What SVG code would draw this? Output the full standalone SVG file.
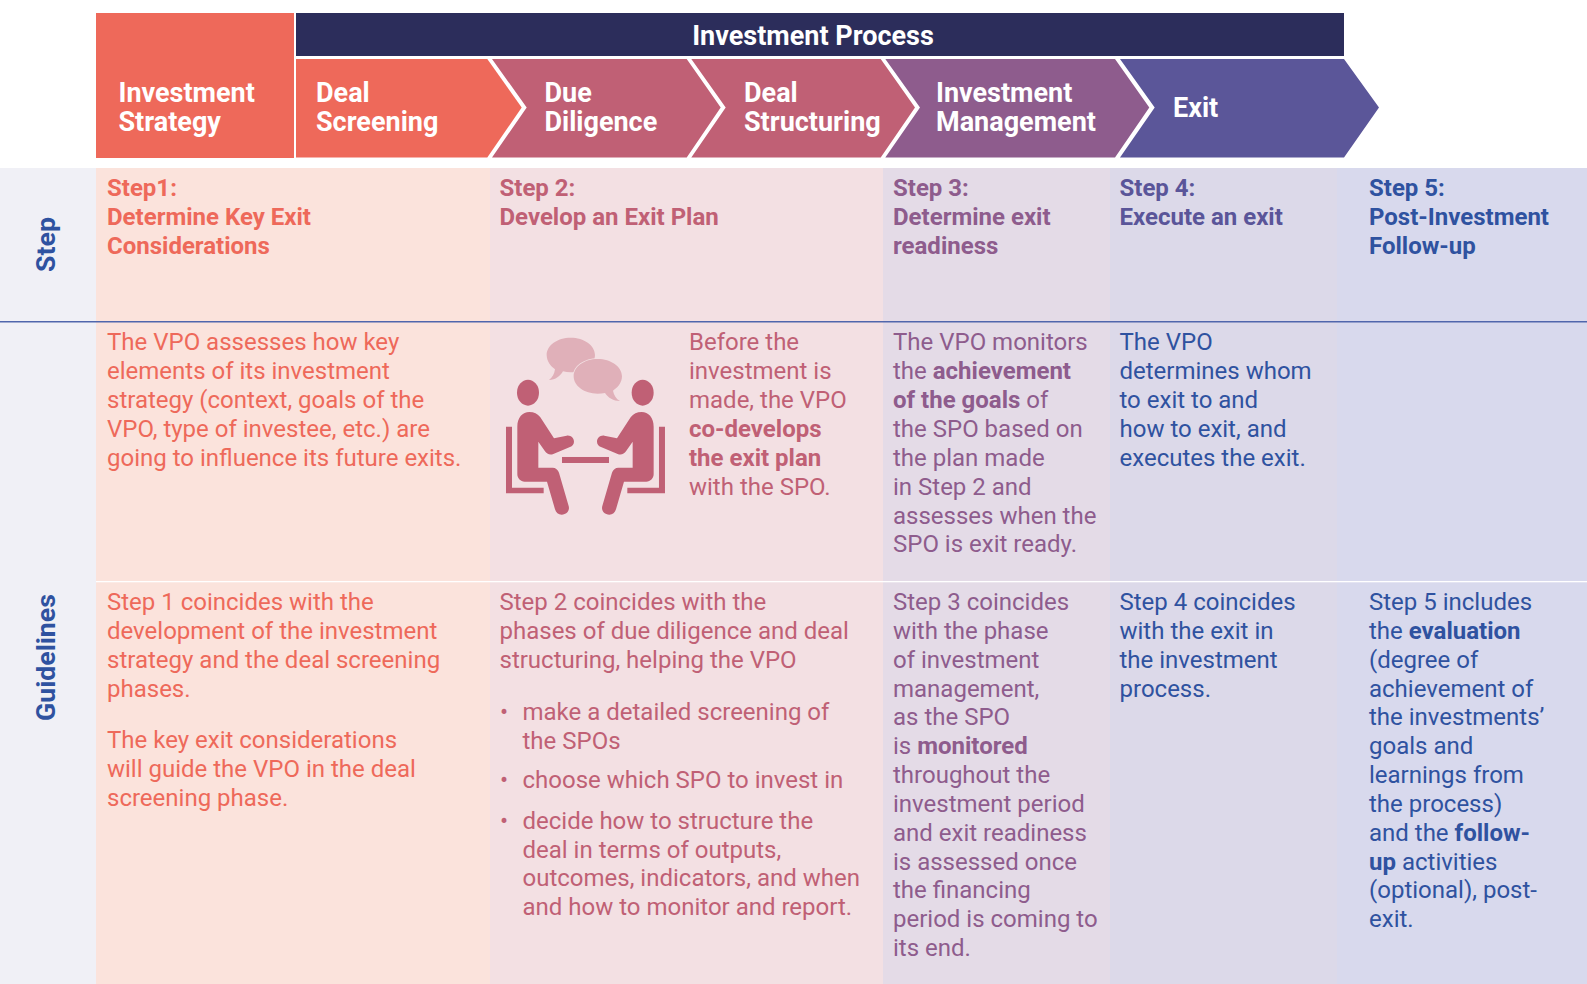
<svg xmlns="http://www.w3.org/2000/svg" width="1587" height="984" viewBox="0 0 1587 984">
<style>
text{font-family:Roboto,"Liberation Sans",sans-serif;font-size:24px}
.h{font-weight:700;font-size:27px;fill:#fff}
.s{font-weight:700;font-size:24px}
.b{font-weight:700}
.c1{fill:#ee695a}.c2{fill:#c06075}.c3{fill:#8e5c8d}.c4{fill:#5a5599}.c5{fill:#2f52a0}
.v{font-weight:700;font-size:26.7px;fill:#2f52a0;text-anchor:middle}
</style>
<rect width="1587" height="984" fill="#fff"/>
<g id="backgrounds">
<rect x="0" y="168" width="96" height="816" fill="#f0f0f6"/>
<rect x="96" y="168" width="394" height="816" fill="#fbe3dc"/>
<rect x="490" y="168" width="393" height="816" fill="#f3e0e3"/>
<rect x="883" y="168" width="227" height="816" fill="#e4dbe7"/>
<rect x="1110" y="168" width="227" height="816" fill="#dcd9e9"/>
<rect x="1337" y="168" width="250" height="816" fill="#d8d9ed"/>
<rect x="0" y="321" width="1587" height="1.500" fill="#5066ac"/>
<rect x="96" y="581" width="1491" height="1.300" fill="#fff"/>
</g>
<g id="phase-strategy">
<rect x="96" y="13" width="198" height="145" fill="#ee695a"/>
<text class="h" x="118.500" y="101.800">Investment</text><text class="h" x="118.500" y="130.800">Strategy</text>
</g>
<g id="phase-process">
<rect x="296" y="13" width="1048" height="43" fill="#2c2d5b"/>
<text class="h" x="813" y="44.500" text-anchor="middle">Investment Process</text>
</g>
<g id="chevron-screening">
<polygon points="296,59 487.300,59 521.700,107.500 487.300,157.500 296,157.500" fill="#ee695a"/>
<text class="h" x="316" y="101.800">Deal</text><text class="h" x="316" y="130.800">Screening</text>
</g>
<g id="chevron-diligence">
<polygon points="492,59 686.700,59 720.700,107.500 686.700,157.500 492,157.500 526.700,107.500" fill="#c06075"/>
<text class="h" x="544.500" y="101.800">Due</text><text class="h" x="544.500" y="130.800">Diligence</text>
</g>
<g id="chevron-structuring">
<polygon points="691.300,59 880.700,59 915,107.500 880.700,157.500 691.300,157.500 725.700,107.500" fill="#c06075"/>
<text class="h" x="744" y="101.800">Deal</text><text class="h" x="744" y="130.800">Structuring</text>
</g>
<g id="chevron-management">
<polygon points="885.300,59 1115,59 1149.300,107.500 1115,157.500 885.300,157.500 920,107.500" fill="#8e5c8d"/>
<text class="h" x="936" y="101.800">Investment</text><text class="h" x="936" y="130.800">Management</text>
</g>
<g id="chevron-exit">
<polygon points="1120,59 1344,59 1379,107.500 1344,157.500 1120,157.500 1154.700,107.500" fill="#5b5699"/>
<text class="h" x="1173" y="116.800">Exit</text>
</g>
<g id="row-labels">
<text class="v" transform="translate(54.500,244.500) rotate(-90)">Step</text>
<text class="v" transform="translate(54.500,657.500) rotate(-90)">Guidelines</text>
</g>
<g id="step-1" class="c1">
<text class="s" x="107" y="196">Step1:</text><text class="s" x="107" y="225">Determine Key Exit</text><text class="s" x="107" y="254">Considerations</text>
<text x="107" y="350">The VPO assesses how key</text><text x="107" y="379">elements of its investment</text><text x="107" y="408">strategy (context, goals of the</text><text x="107" y="437">VPO, type of investee, etc.) are</text><text x="107" y="465.800">going to influence its future exits.</text>
<text x="107" y="610">Step 1 coincides with the</text><text x="107" y="638.800">development of the investment</text><text x="107" y="667.700">strategy and the deal screening</text><text x="107" y="696.500">phases.</text>
<text x="107" y="748">The key exit considerations</text><text x="107" y="776.800">will guide the VPO in the deal</text><text x="107" y="805.700">screening phase.</text>
</g>
<g id="step-2" class="c2">
<text class="s" x="499.500" y="196">Step 2:</text><text class="s" x="499.500" y="225">Develop an Exit Plan</text>
<text x="689" y="350">Before the</text><text x="689" y="379">investment is</text><text x="689" y="408">made, the VPO</text><text class="b" x="689" y="437">co-develops</text><text class="b" x="689" y="465.800">the exit plan</text><text x="689" y="494.700">with the SPO.</text>
<text x="499.500" y="610">Step 2 coincides with the</text><text x="499.500" y="638.800">phases of due diligence and deal</text><text x="499.500" y="667.700">structuring, helping the VPO</text>
<text x="500" y="720">•</text><text x="522.500" y="720">make a detailed screening of</text><text x="522.500" y="748.500">the SPOs</text>
<text x="500" y="788">•</text><text x="522.500" y="788">choose which SPO to invest in</text>
<text x="500" y="829">•</text><text x="522.500" y="829">decide how to structure the</text><text x="522.500" y="857.500">deal in terms of outputs,</text><text x="522.500" y="886.300">outcomes, indicators, and when</text><text x="522.500" y="915">and how to monitor and report.</text>
</g>
<g id="meeting-icon" transform="translate(490,320) scale(0.3333)">
<path d="M242 53C282 53 315 76 315 105C315 134 282 157 242 157C234 157 226 156 219 154C211 168 197 180 177 180C188 172 193 162 195 148C183 139 170 124 170 105C170 76 202 53 242 53Z" fill="#e0b0b9"/>
<path d="M323 117C363 117 396 140 396 169C396 188 383 203 369 212C372 226 378 236 390 243C370 243 355 234 345 219C338 220 331 221 323 221C283 221 251 198 251 169C251 140 283 117 323 117Z" fill="#e0b0b9" stroke="#f3e0e3" stroke-width="5" paint-order="stroke"/>
<rect x="216" y="411" width="141" height="18" fill="#c06075"/>
<g id="person" fill="#c06075">
<ellipse cx="114" cy="218" rx="33" ry="39"/>
<path d="M82 320C82 292 98 276 118 276C132 276 143 281 151 292L192 355L230 347C242 345 252 354 252 365C252 373 247 378 240 381L190 402C180 406 170 402 165 394L145 365V443H188C197 443 204 449 207 458L236 558C240 572 230 584 215 584C205 584 198 578 195 568L171 485H104C92 485 82 475 82 463Z"/>
<path d="M48 320H66V503H161V520H48Z"/>
</g>
<g fill="#c06075" transform="translate(573,0) scale(-1,1)">
<ellipse cx="115" cy="218" rx="33" ry="39"/>
<path d="M82 320C82 292 98 276 118 276C132 276 143 281 151 292L192 355L230 347C242 345 252 354 252 365C252 373 247 378 240 381L190 402C180 406 170 402 165 394L145 365V443H188C197 443 204 449 207 458L236 558C240 572 230 584 215 584C205 584 198 578 195 568L171 485H104C92 485 82 475 82 463Z"/>
<path d="M48 320H66V503H161V520H48Z"/>
</g>
</g>
<g id="step-3" class="c3">
<text class="s" x="893" y="196">Step 3:</text><text class="s" x="893" y="225">Determine exit</text><text class="s" x="893" y="254">readiness</text>
<text x="893" y="350">The VPO monitors</text><text x="893" y="379">the <tspan class="b">achievement</tspan></text><text class="b" x="893" y="408">of the goals <tspan font-weight="400">of</tspan></text><text x="893" y="437">the SPO based on</text><text x="893" y="465.800">the plan made</text><text x="893" y="494.700">in Step 2 and</text><text x="893" y="523.500">assesses when the</text><text x="893" y="552.300">SPO is exit ready.</text>
<text x="893" y="610">Step 3 coincides</text><text x="893" y="638.800">with the phase</text><text x="893" y="667.700">of investment</text><text x="893" y="696.500">management,</text><text x="893" y="725.300">as the SPO</text><text x="893" y="754.200">is <tspan class="b">monitored</tspan></text><text x="893" y="783">throughout the</text><text x="893" y="811.800">investment period</text><text x="893" y="840.700">and exit readiness</text><text x="893" y="869.500">is assessed once</text><text x="893" y="898.300">the financing</text><text x="893" y="927.200">period is coming to</text><text x="893" y="956">its end.</text>
</g>
<g id="step-4" class="c5">
<text class="s c4" x="1119.500" y="196">Step 4:</text><text class="s c4" x="1119.500" y="225">Execute an exit</text>
<text x="1119.500" y="350">The VPO</text><text x="1119.500" y="379">determines whom</text><text x="1119.500" y="408">to exit to and</text><text x="1119.500" y="437">how to exit, and</text><text x="1119.500" y="465.800">executes the exit.</text>
<text x="1119.500" y="610">Step 4 coincides</text><text x="1119.500" y="638.800">with the exit in</text><text x="1119.500" y="667.700">the investment</text><text x="1119.500" y="696.500">process.</text>
</g>
<g id="step-5" class="c5">
<text class="s" x="1369" y="196">Step 5:</text><text class="s" x="1369" y="225">Post-Investment</text><text class="s" x="1369" y="254">Follow-up</text>
<text x="1369" y="610">Step 5 includes</text><text x="1369" y="638.800">the <tspan class="b">evaluation</tspan></text><text x="1369" y="667.700">(degree of</text><text x="1369" y="696.500">achievement of</text><text x="1369" y="725.300">the investments’</text><text x="1369" y="754.200">goals and</text><text x="1369" y="783">learnings from</text><text x="1369" y="811.800">the process)</text><text x="1369" y="840.700">and the <tspan class="b">follow-</tspan></text><text x="1369" y="869.500"><tspan class="b">up</tspan> activities</text><text x="1369" y="898.300">(optional), post-</text><text x="1369" y="927.200">exit.</text>
</g>
</svg>
